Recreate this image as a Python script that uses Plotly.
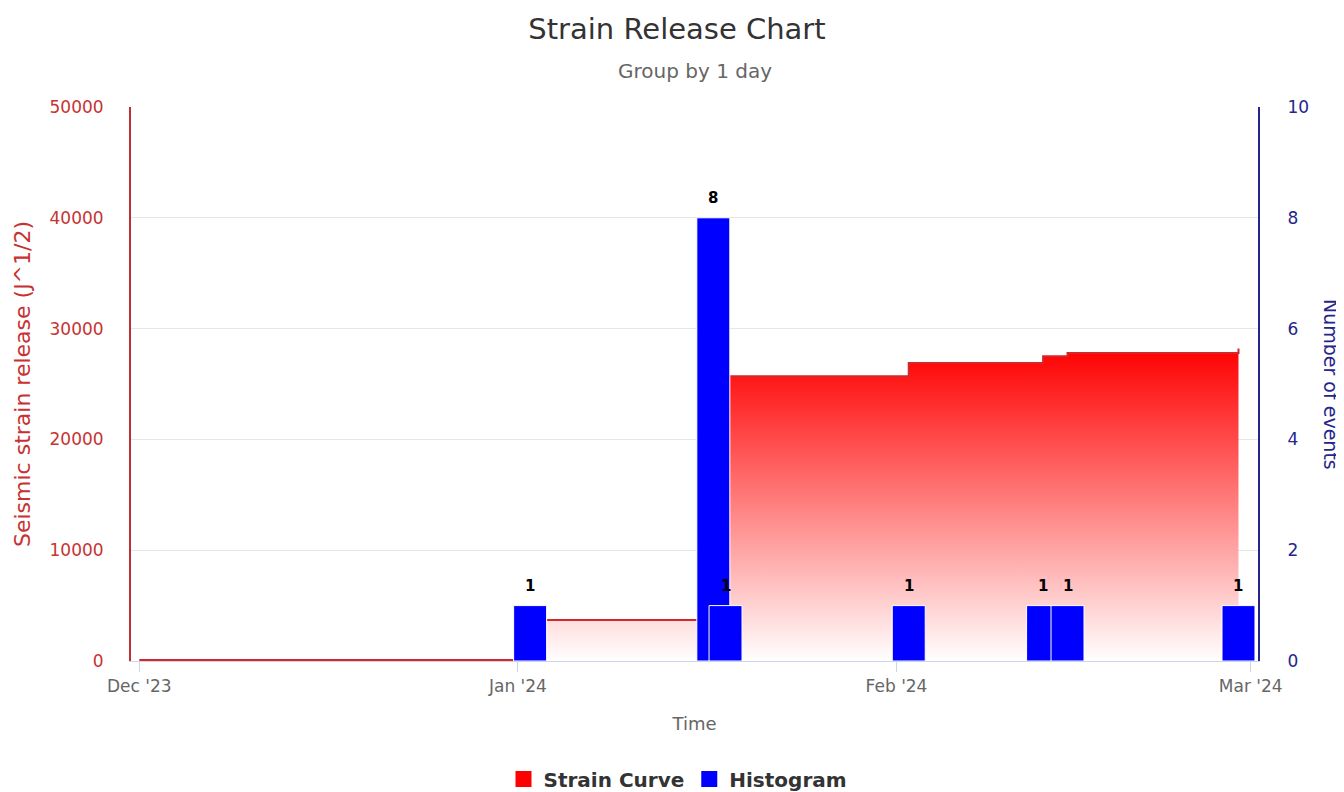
import plotly.graph_objects as go

# ---------------- data ----------------
strain_dates = ["2023-12-01", "2024-01-02", "2024-01-17", "2024-01-18",
                "2024-02-02", "2024-02-13", "2024-02-15", "2024-02-29"]
strain_values = [100, 3700, 24800, 25700, 26900, 27500, 27800, 28200]

event_dates = ["2024-01-02", "2024-01-17", "2024-01-18", "2024-02-02",
               "2024-02-13", "2024-02-15", "2024-02-29"]
event_counts = [1, 8, 1, 1, 1, 1, 1]

x_range = ["2023-11-30 07:40", "2024-03-01 14:20"]
left_range = [0, 50000]
right_range = [0, 10]

title_text = "Strain Release Chart"
subtitle_text = "Group by 1 day"
left_title = "Seismic strain release (J^1/2)"
right_title = "Number of events"
x_title = "Time"

FONT = "DejaVu Sans"
RED_AX = "#c83232"
NAVY = "#25258c"
DAY_MS = 86400000

# page has an 8px body margin -> figure drawn at (8, 8)
OFF = 8
FIG_W, FIG_H = 1344 - OFF, 792 - OFF
ML, MT = 131 - OFF, 107 - OFF
PLOT_W, PLOT_H = 1127, 554
MR = FIG_W - ML - PLOT_W
MB = FIG_H - MT - PLOT_H

fig = go.Figure()

# Strain curve (stepped area with vertical gradient)
fig.add_trace(go.Scatter(
    x=strain_dates, y=strain_values, mode="lines",
    line=dict(shape="hv", color="#d42828", width=2),
    fill="tozeroy",
    fillgradient=dict(type="vertical",
                      colorscale=[[0, "rgb(255,255,255)"], [1, "rgb(255,0,0)"]],
                      start=0, stop=max(strain_values)),
    showlegend=False, hoverinfo="skip", yaxis="y",
))

# Histogram (columns)
fig.add_trace(go.Bar(
    x=event_dates, y=event_counts, yaxis="y2",
    width=[2.7 * DAY_MS] * len(event_dates),
    marker=dict(color="#0000ff", line=dict(color="white", width=1)),
    showlegend=False,
))

# legend proxies
fig.add_trace(go.Scatter(x=[None], y=[None], mode="markers", name="Strain Curve",
                         marker=dict(symbol="square", size=16, color="#ff0000")))
fig.add_trace(go.Scatter(x=[None], y=[None], mode="markers", name="Histogram",
                         marker=dict(symbol="square", size=16, color="#0000ff")))

annotations = []
for d, c in zip(event_dates, event_counts):
    annotations.append(dict(x=d, y=c, xref="x", yref="y2", text=f"<b>{c}</b>",
                            showarrow=False, yanchor="bottom", yshift=9,
                            font=dict(family=FONT, size=15, color="#000000")))

annotations.append(dict(text=subtitle_text, xref="paper", yref="paper",
                        x=0.5, y=1 + (107 - 71) / PLOT_H, yanchor="middle", showarrow=False,
                        font=dict(family=FONT, size=20, color="#666666")))
annotations.append(dict(text=right_title, xref="paper", yref="paper",
                        x=1 + (1331 - 1258) / PLOT_W, y=0.5, textangle=90,
                        xanchor="center", yanchor="middle", showarrow=False,
                        font=dict(family=FONT, size=19, color=NAVY)))

fig.update_layout(
    width=FIG_W, height=FIG_H,
    paper_bgcolor="white", plot_bgcolor="white",
    margin=dict(l=ML, r=MR, t=MT, b=MB),
    font=dict(family=FONT),
    title=dict(text=title_text, x=(677 - OFF) / FIG_W, xanchor="center", xref="container",
               y=1 - (29 - OFF) / FIG_H, yanchor="middle", yref="container",
               font=dict(family=FONT, size=29, color="#333333")),
    barmode="overlay",
    xaxis=dict(type="date", range=x_range, tickformat="%b '%y",
               tick0="2023-12-01", dtick="M1",
               showgrid=False, showline=True, linecolor="#ccd6eb", linewidth=1,
               ticks="outside", ticklen=10, tickcolor="#ccd6eb",
               tickfont=dict(family=FONT, size=17, color="#666666"),
               title=dict(text=x_title, standoff=21,
                          font=dict(family=FONT, size=18, color="#666666")),
               zeroline=False),
    yaxis=dict(range=left_range, dtick=10000, tickformat="d",
               showgrid=True, gridcolor="#e6e6e6",
               showline=True, linecolor="#c03030", linewidth=2, zeroline=False,
               ticks="", ticklabelstandoff=22,
               tickfont=dict(family=FONT, size=17, color=RED_AX),
               title=dict(text=left_title, standoff=13,
                          font=dict(family=FONT, size=22, color=RED_AX))),
    yaxis2=dict(range=right_range, dtick=2, overlaying="y", side="right",
                showgrid=False, showline=True, linecolor=NAVY, linewidth=2,
                zeroline=False, ticks="", ticklabelstandoff=24,
                tickfont=dict(family=FONT, size=17, color=NAVY)),
    legend=dict(orientation="h", x=(678 - OFF) / FIG_W, xref="container", xanchor="center",
                y=1 - (779 - OFF) / FIG_H, yref="container", yanchor="middle",
                font=dict(family=FONT, size=20, color="#333333", weight="bold"),
                itemsizing="trace"),
    annotations=annotations,
)

fig.write_html("out.html")
